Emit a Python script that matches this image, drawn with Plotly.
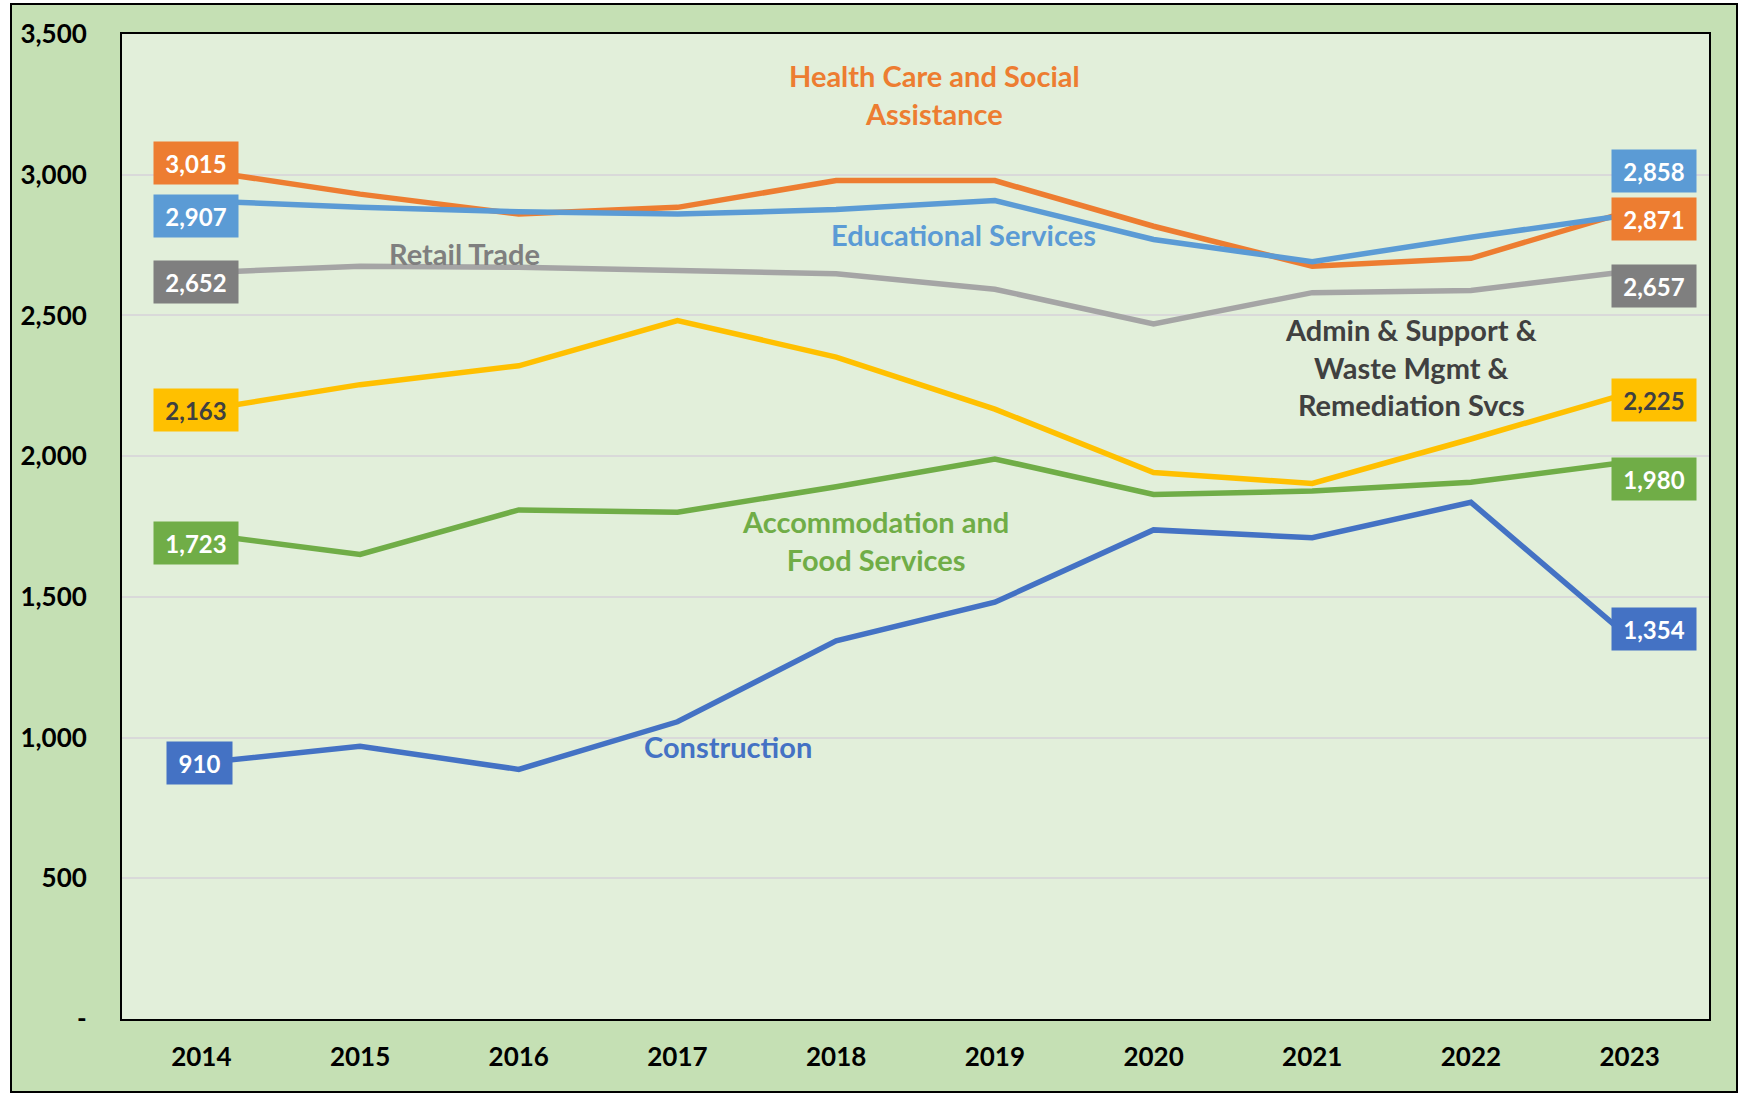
import plotly.graph_objects as go

years = ["2014", "2015", "2016", "2017", "2018", "2019", "2020", "2021", "2022", "2023"]

construction = [910, 969, 887, 1056, 1344, 1481, 1738, 1710, 1836, 1354]
health_care = [3015, 2931, 2860, 2884, 2979, 2979, 2817, 2675, 2703, 2871]
retail_trade = [2652, 2675, 2671, 2660, 2648, 2593, 2470, 2581, 2589, 2657]
admin_support = [2163, 2254, 2321, 2482, 2352, 2167, 1942, 1903, 2061, 2225]
educational = [2907, 2884, 2868, 2860, 2876, 2908, 2770, 2691, 2778, 2858]
accommodation = [1723, 1651, 1809, 1801, 1891, 1990, 1864, 1876, 1907, 1980]

series_names = ["Construction", "Health Care and Social<br>Assistance", "Retail Trade",
                "Admin & Support &<br>Waste Mgmt &<br>Remediation Svcs",
                "Educational Services", "Accommodation and<br>Food Services"]

y_tickvals = [0, 500, 1000, 1500, 2000, 2500, 3000, 3500]
y_ticktext = ["-", "500", "1,000", "1,500", "2,000", "2,500", "3,000", "3,500"]

FONT = "Lato"

# style per series: line colour, box colour, box text colour, name colour,
# name position (x index, y value), left label shift, right label shift, box widths
styles = [
    dict(line="#4472C4", box="#4472C4", txt="white", name="#4472C4", npos=(3.32, 969),
         lshift=(-2, 0), rshift=(24, 9), lw=63),
    dict(line="#ED7D31", box="#ED7D31", txt="white", name="#ED7D31", npos=(4.62, 3286),
         lshift=(-5, 7), rshift=(24, -8), lw=82),
    dict(line="#A5A5A5", box="#7F7F7F", txt="white", name="#7F7F7F", npos=(1.66, 2719),
         lshift=(-5, -9), rshift=(24, -15), lw=82),
    dict(line="#FFC000", box="#FFC000", txt="#404040", name="#404040", npos=(7.62, 2317),
         lshift=(-5, 0), rshift=(24, -7), lw=82),
    dict(line="#5B9BD5", box="#5B9BD5", txt="white", name="#5B9BD5", npos=(4.80, 2786),
         lshift=(-5, -15), rshift=(24, 44), lw=82),
    dict(line="#70AD47", box="#70AD47", txt="white", name="#70AD47", npos=(4.25, 1700),
         lshift=(-5, -9), rshift=(24, -17), lw=82),
]

all_series = [construction, health_care, retail_trade, admin_support, educational, accommodation]

fig = go.Figure()
annotations = []
for vals, nm, st in zip(all_series, series_names, styles):
    fig.add_trace(go.Scatter(x=years, y=vals, mode="lines", name=nm.replace("<br>", " "),
                             line=dict(color=st["line"], width=5.5), showlegend=False,
                             hoverinfo="skip"))
    # left label
    annotations.append(dict(x=0, y=vals[0], xref="x", yref="y", text=f"{vals[0]:,}",
                            showarrow=False, bgcolor=st["box"], width=st["lw"], height=40,
                            font=dict(family=FONT, size=24, color=st["txt"], weight="bold"),
                            xshift=st["lshift"][0], yshift=st["lshift"][1], align="center"))
    # right label
    annotations.append(dict(x=len(years) - 1, y=vals[-1], xref="x", yref="y", text=f"{vals[-1]:,}",
                            showarrow=False, bgcolor=st["box"], width=82, height=40,
                            font=dict(family=FONT, size=24, color=st["txt"], weight="bold"),
                            xshift=st["rshift"][0], yshift=st["rshift"][1], align="center"))
    # series name
    annotations.append(dict(x=st["npos"][0], y=st["npos"][1], xref="x", yref="y", text=nm,
                            showarrow=False,
                            font=dict(family=FONT, size=29, color=st["name"], weight="bold"),
                            align="center"))

# plot area in pixels
L, R, T, B = 122, 1709, 34, 1019
W, H = 1739, 1096
pw, ph = R - L, B - T
ox0, ox1, oy0, oy1 = 11, 1737, 4, 1092

shapes = [
    dict(type="rect", xref="paper", yref="paper", layer="below",
         x0=(ox0 - L) / pw, x1=(ox1 - L) / pw, y0=(B - oy1) / ph, y1=(B - oy0) / ph,
         fillcolor="#C5E0B4", line=dict(color="black", width=2)),
    dict(type="rect", xref="paper", yref="paper", layer="below",
         x0=0, x1=1, y0=0, y1=1, fillcolor="#E2EFDA", line=dict(width=0)),
]

fig.update_layout(
    width=W, height=H,
    margin=dict(l=L, r=W - R, t=T, b=H - B),
    paper_bgcolor="white", plot_bgcolor="rgba(0,0,0,0)",
    font=dict(family=FONT),
    annotations=annotations, shapes=shapes,
    showlegend=False,
)
fig.update_xaxes(type="category", range=[-0.5, 9.5], showgrid=False, showline=True,
                 linecolor="black", linewidth=2, mirror=True, ticks="",
                 tickfont=dict(family=FONT, size=26, color="black", weight="bold"),
                 ticklabelstandoff=14)
fig.update_yaxes(range=[0, 3500], tickvals=y_tickvals, ticktext=y_ticktext,
                 showgrid=True, gridcolor="#D9D9D9", gridwidth=2, zeroline=False,
                 showline=True, linecolor="black", linewidth=2, mirror=True, ticks="",
                 tickfont=dict(family=FONT, size=26, color="black", weight="bold"),
                 ticklabelstandoff=28)

fig.write_html("out.html", config={"displayModeBar": False},
               post_script="document.body.style.margin='0';")
